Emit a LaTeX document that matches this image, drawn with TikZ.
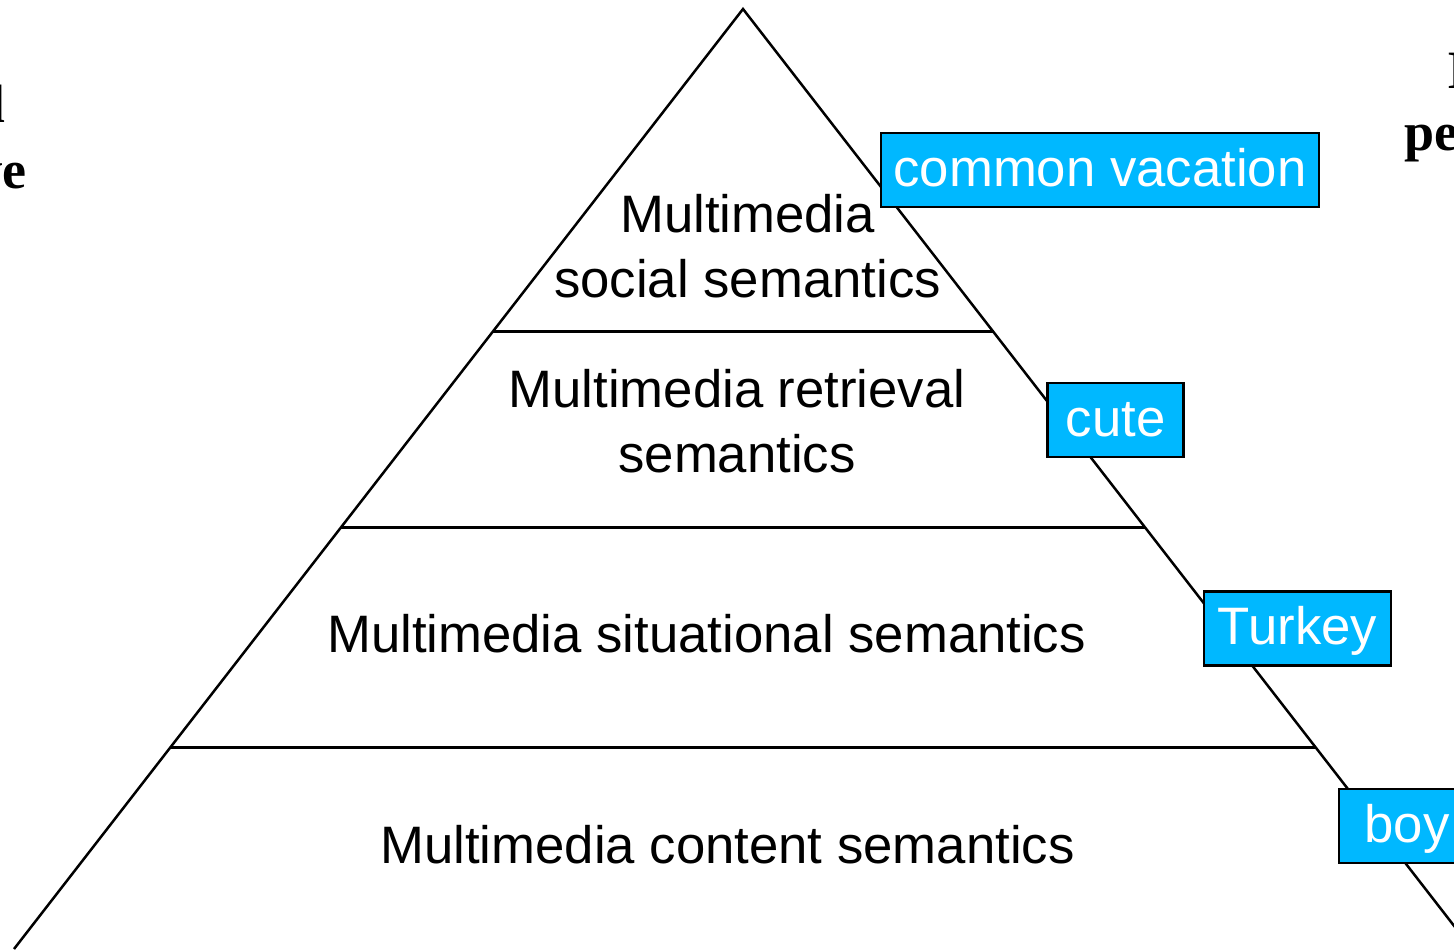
\documentclass[tikz,border=0pt]{standalone}
\usepackage{fontspec}
\setmainfont{Liberation Sans}
\newfontfamily\tnr{Liberation Serif}
\usetikzlibrary{calc}
\definecolor{boxblue}{RGB}{0,184,255}
\begin{document}
\begin{tikzpicture}[x=0.5pt,y=-0.5pt,
  lbl/.style={font=\fontsize{26.35}{32}\selectfont, inner sep=0pt, anchor=base},
  tag/.style={draw=black, line width=1.25pt, fill=boxblue, text=white,
    font=\fontsize{26.35}{32}\selectfont, inner sep=0pt,
    text height=19pt, text depth=2.6pt, minimum height=37pt},
  frag/.style={font=\tnr\bfseries\fontsize{27}{32}\selectfont, inner sep=0pt},
  side/.style={line width=1.25pt, line join=miter},
  hline/.style={line width=1.5pt}]
\useasboundingbox (0,0) rectangle (1454,949);
% pyramid
\coordinate (apex) at (743,9);
\coordinate (bl) at (14,949);
\coordinate (br) at (1472,949);
\draw[side] (bl) -- (apex) -- (br);
\coordinate (h1l) at ($(apex)!0.3436!(bl)$);
\coordinate (h1r) at ($(apex)!0.3436!(br)$);
\coordinate (h2l) at ($(apex)!0.5521!(bl)$);
\coordinate (h2r) at ($(apex)!0.5521!(br)$);
\coordinate (h3l) at ($(apex)!0.7851!(bl)$);
\coordinate (h3r) at ($(apex)!0.7851!(br)$);
\draw[hline] (h1l) -- (h1r);
\draw[hline] (h2l) -- (h2r);
\draw[hline] (h3l) -- (h3r);
% layer labels
\node[lbl] (soc1) at (747.5,232.7) {Multimedia};
\node[lbl] (soc2) at (747.5,297) {social semantics};
\node[lbl] (ret1) at (737,407) {Multimedia retrieval};
\node[lbl] (ret2) at (737,472) {semantics};
\node[lbl] (sit) at (706.5,652) {Multimedia situational semantics};
\node[lbl] (con) at (727.5,863) {Multimedia content semantics};
% tags
\node[tag, minimum width=219pt] (cv) at (1100,170) {common vacation};
\node[tag, minimum width=68pt] (cute) at (1115.5,420) {cute};
\node[tag, minimum width=93.5pt] (turkey) at (1297.5,628.5) {Turkey};
\node[tag, minimum width=68pt] (boy) at (1407,826) {boy};
% cut-off fragments at the edges
\node[frag, anchor=base east] (fl1) at (6,122) {l};
\node[frag, anchor=base east] (fl2) at (27,188) {ve};
\node[frag, anchor=base west] (fr1) at (1447,88) {I};
\node[frag, anchor=base west] (fr2) at (1404,150) {pe};
\end{tikzpicture}
\end{document}
